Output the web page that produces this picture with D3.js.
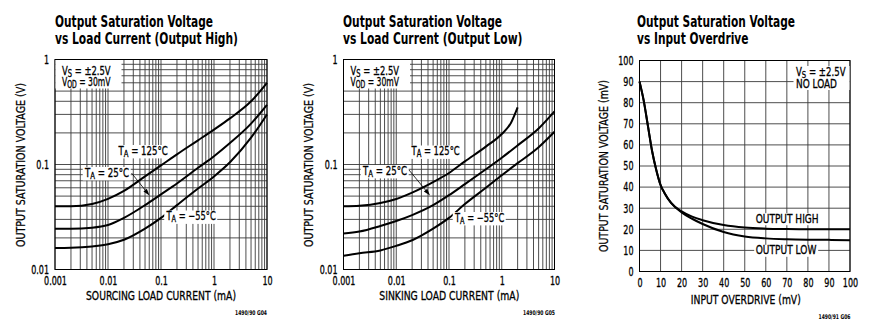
<!DOCTYPE html>
<html><head><meta charset="utf-8">
<script src="https://cdn.jsdelivr.net/npm/d3@7"></script>
<style>body{margin:0;background:#fff}svg{display:block}</style>
</head><body>
<svg id="c" width="869" height="329"></svg>
<script>
// ---------- DATA ----------
const currentMA = [0.001, 0.002, 0.005, 0.01, 0.02, 0.05, 0.1, 0.2, 0.5, 1, 2, 5, 10];
// Output High (sourcing)
const highT125 = [0.040, 0.040, 0.042, 0.047, 0.056, 0.077, 0.098, 0.125, 0.17, 0.215, 0.275, 0.40, 0.60];
const highT25  = [0.0245, 0.0245, 0.025, 0.0265, 0.031, 0.041, 0.052, 0.066, 0.093, 0.12, 0.16, 0.245, 0.37];
const highTm55 = [0.016, 0.0161, 0.0166, 0.0174, 0.0192, 0.0245, 0.031, 0.041, 0.059, 0.077, 0.105, 0.18, 0.30];
// Output Low (sinking)
const lowCurrent125 = [0.001, 0.002, 0.005, 0.01, 0.02, 0.05, 0.1, 0.2, 0.5, 1, 1.5, 2];
const lowT125  = [0.040, 0.0405, 0.043, 0.047, 0.054, 0.068, 0.083, 0.107, 0.148, 0.195, 0.25, 0.35];
const lowT25   = [0.022, 0.023, 0.026, 0.029, 0.033, 0.041, 0.051, 0.065, 0.09, 0.116, 0.152, 0.22, 0.32];
const lowTm55  = [0.0135, 0.0143, 0.0152, 0.0168, 0.019, 0.0245, 0.031, 0.042, 0.060, 0.079, 0.103, 0.146, 0.205];
// Input overdrive
const overdriveMV = [0, 2, 4, 6, 8, 10, 12, 15, 20, 25, 30, 40, 50, 60, 70, 80, 90, 100];
const satHigh = [90, 81, 69, 57, 48, 41, 37, 32.5, 28.5, 26, 24.3, 22, 20.8, 20.3, 20.1, 20, 20, 20];
const satLow  = [90, 81, 69, 57, 48, 41, 37, 32.5, 28, 25, 22.5, 18.7, 16.6, 15.7, 15.3, 15.1, 15, 14.8];
// ticks
const currentTicks = [0.001, 0.01, 0.1, 1, 10];
const currentTickLabels = ["0.001", "0.01", "0.1", "1", "10"];
const voltTicks = [0.01, 0.1, 1];
const voltTickLabels = ["0.01", "0.1", "1"];
const overdriveTicks = [0, 10, 20, 30, 40, 50, 60, 70, 80, 90, 100];
const mvTicks = [0, 10, 20, 30, 40, 50, 60, 70, 80, 90, 100];

// ---------- DRAW ----------
const FONT = "'Liberation Sans Narrow','Arial Narrow','DejaVu Sans Condensed',sans-serif";
const svg = d3.select("#c").attr("font-family", FONT);
const GRID = "#3a3a3a";
const TXT_STROKE = 0.3;

function minorLog(lo, hi) {
  const out = [];
  for (let e = Math.round(Math.log10(lo)); e < Math.round(Math.log10(hi)); e++)
    for (let m = 1; m <= 9; m++) out.push(m * Math.pow(10, e));
  out.push(hi);
  return out;
}

// text with optional subscripts, horizontally condensed to a target width
function rich(parent, x, y, parts, size, width) {
  const g = parent.append("g");
  const t = g.append("text").attr("x", 0).attr("y", 0).attr("font-size", size).attr("fill", "#000")
    .attr("stroke", "#000").attr("stroke-width", TXT_STROKE);
  let shift = 0;
  parts.forEach(p => {
    const isSub = Array.isArray(p);
    const target = isSub ? size * 0.2 : 0;
    t.append("tspan").attr("dy", target - shift)
      .attr("font-size", isSub ? size * 0.8 : size).text(isSub ? p[0] : p);
    shift = target;
  });
  const b = t.node().getBBox();
  const sx = width ? width / b.width : 1;
  g.attr("transform", `translate(${x},${y}) scale(${sx},1)`);
  return {x: x + b.x * sx, y: y + b.y, w: b.width * sx, h: b.height};
}

function whiteBox(parent, box, pad, trimTop, trimBot) {
  parent.insert("rect", "g").attr("x", box.x - pad).attr("y", box.y + trimTop)
    .attr("width", box.w + 2 * pad).attr("height", box.h - trimTop - trimBot).attr("fill", "#fff");
}

function titles(g, x, l1, l2, w1, w2) {
  g.append("text").attr("x", x).attr("y", 27).attr("font-size", 16).attr("font-weight", "bold")
    .attr("textLength", w1).attr("lengthAdjust", "spacingAndGlyphs").text(l1);
  g.append("text").attr("x", x).attr("y", 43.5).attr("font-size", 16).attr("font-weight", "bold")
    .attr("textLength", w2).attr("lengthAdjust", "spacingAndGlyphs").text(l2);
}

function axisTitles(g, cx, by, xt, xw, yx, cy, yt, yw) {
  g.append("text").attr("x", cx).attr("y", by).attr("font-size", 13).attr("text-anchor", "middle")
    .attr("stroke", "#000").attr("stroke-width", TXT_STROKE)
    .attr("textLength", xw).attr("lengthAdjust", "spacingAndGlyphs").text(xt);
  g.append("text").attr("transform", `translate(${yx},${cy}) rotate(-90)`).attr("font-size", 12)
    .attr("stroke", "#000").attr("stroke-width", TXT_STROKE * 0.8)
    .attr("text-anchor", "middle").attr("textLength", yw).attr("lengthAdjust", "spacingAndGlyphs").text(yt);
}

function footer(g, xr, y, txt) {
  g.append("text").attr("x", xr).attr("y", y).attr("font-size", 6.5).attr("font-weight", "bold")
    .attr("text-anchor", "end").attr("textLength", 32).attr("lengthAdjust", "spacingAndGlyphs").text(txt);
}

function styleTicks(a) {
  a.select(".domain").remove();
  a.selectAll("text").attr("font-family", FONT).attr("font-size", 12).attr("fill", "#000")
    .attr("stroke", "#000").attr("stroke-width", TXT_STROKE)
    .each(function () {
      const w = this.getComputedTextLength();
      d3.select(this).attr("textLength", w * 0.74).attr("lengthAdjust", "spacingAndGlyphs");
    });
}

function arrow(g, ar) {
  const ang = Math.atan2(ar[3] - ar[1], ar[2] - ar[0]);
  g.append("line").attr("x1", ar[0]).attr("y1", ar[1])
    .attr("x2", ar[2] - 5 * Math.cos(ang)).attr("y2", ar[3] - 5 * Math.sin(ang))
    .attr("stroke", "#000").attr("stroke-width", 0.8);
  const hl = 7, hw = 2.2;
  const bx = ar[2] - hl * Math.cos(ang), by = ar[3] - hl * Math.sin(ang);
  g.append("path").attr("d", `M${ar[2]},${ar[3]}L${bx + hw * Math.sin(ang)},${by - hw * Math.cos(ang)}L${bx - hw * Math.sin(ang)},${by + hw * Math.cos(ang)}Z`)
    .attr("fill", "#000");
}

function logPanel(cfg) {
  const g = svg.append("g");
  const x = d3.scaleLog().domain([0.001, 10]).range([cfg.left, cfg.right]);
  const y = d3.scaleLog().domain([0.01, 1]).range([cfg.bottom, cfg.top]);
  const grid = g.append("g").attr("stroke", GRID).attr("stroke-width", 0.9);
  grid.selectAll("line.v").data(minorLog(0.001, 10)).join("line")
    .attr("x1", d => x(d)).attr("x2", d => x(d)).attr("y1", cfg.top).attr("y2", cfg.bottom);
  grid.selectAll("line.h").data(minorLog(0.01, 1)).join("line").attr("class", "h")
    .attr("y1", d => y(d)).attr("y2", d => y(d)).attr("x1", cfg.left).attr("x2", cfg.right);
  g.append("rect").attr("x", cfg.left).attr("y", cfg.top).attr("width", cfg.right - cfg.left)
    .attr("height", cfg.bottom - cfg.top).attr("fill", "none").attr("stroke", "#000").attr("stroke-width", 1);

  const xa = g.append("g").attr("transform", `translate(0,${cfg.bottom})`)
    .call(d3.axisBottom(x).tickValues(currentTicks).tickFormat((d, i) => currentTickLabels[i]).tickSize(0).tickPadding(7));
  const ya = g.append("g").attr("transform", `translate(${cfg.left},0)`)
    .call(d3.axisLeft(y).tickValues(voltTicks).tickFormat((d, i) => voltTickLabels[i]).tickSize(0).tickPadding(6));
  styleTicks(xa); styleTicks(ya);

  // legend
  const lg = g.append("g");
  lg.append("rect").attr("x", cfg.left + 0.5).attr("y", cfg.top + 0.5)
    .attr("width", 66).attr("height", 88 - cfg.top).attr("fill", "#fff");
  rich(lg, cfg.left + 7, 74.5, ["V", ["S"], " = ±2.5V"], 12, 49);
  rich(lg, cfg.left + 7, 86, ["V", ["OD"], " = 30mV"], 12, 49);

  const line = d3.line().x(d => x(d[0])).y(d => y(d[1])).curve(d3.curveMonotoneX);
  cfg.series.forEach(s => {
    g.append("path").datum(d3.zip(s.x, s.y)).attr("d", line)
      .attr("fill", "none").attr("stroke", "#000").attr("stroke-width", 2);
  });

  // annotations
  const an = g.append("g");
  cfg.labels.forEach(L => {
    const b = rich(an, L.x, L.y, ["T", ["A"], L.txt], 12, L.w);
    whiteBox(an, b, 1.5, 1.5, 0.5);
  });
  arrow(an, cfg.arrow);
  return g;
}

// Panel 1
const g1 = logPanel({
  left: 55, right: 267, top: 59.5, bottom: 269.5,
  series: [{x: currentMA, y: highT125}, {x: currentMA, y: highT25}, {x: currentMA, y: highTm55}],
  labels: [{x: 118.5, y: 154.5, txt: " = 125°C", w: 50}, {x: 85, y: 176.5, txt: " = 25°C", w: 45}, {x: 166.5, y: 220, txt: " = −55°C", w: 50}],
  arrow: [131.5, 173, 149.5, 195.5]
});
titles(g1, 55, "Output Saturation Voltage", "vs Load Current (Output High)", 158, 183);
axisTitles(g1, 161, 300, "SOURCING LOAD CURRENT (mA)", 150, 25, 165, "OUTPUT SATURATION VOLTAGE (V)", 164);
footer(g1, 267, 315, "1490/90 G04");

// Panel 2
const g2 = logPanel({
  left: 343.5, right: 554.5, top: 59.5, bottom: 269.5,
  series: [{x: lowCurrent125, y: lowT125}, {x: currentMA, y: lowT25}, {x: currentMA, y: lowTm55}],
  labels: [{x: 411.5, y: 155, txt: " = 125°C", w: 49}, {x: 363, y: 174.5, txt: " = 25°C", w: 45}, {x: 455, y: 221.5, txt: " = −55°C", w: 50}],
  arrow: [409, 170, 430, 195.5]
});
titles(g2, 343, "Output Saturation Voltage", "vs Load Current (Output Low)", 159, 179.5);
axisTitles(g2, 449.3, 300, "SINKING LOAD CURRENT (mA)", 140, 313.3, 165, "OUTPUT SATURATION VOLTAGE (V)", 164);
footer(g2, 555, 315, "1490/90 G05");

// Panel 3
(function () {
  const cfg = {left: 639.5, right: 850, top: 60.5, bottom: 271.5};
  const g = svg.append("g");
  const x = d3.scaleLinear().domain([0, 100]).range([cfg.left, cfg.right]);
  const y = d3.scaleLinear().domain([0, 100]).range([cfg.bottom, cfg.top]);
  const grid = g.append("g").attr("stroke", GRID).attr("stroke-width", 0.9);
  grid.selectAll("line.v").data(overdriveTicks).join("line")
    .attr("x1", d => x(d)).attr("x2", d => x(d)).attr("y1", cfg.top).attr("y2", cfg.bottom);
  grid.selectAll("line.h").data(mvTicks).join("line").attr("class", "h")
    .attr("y1", d => y(d)).attr("y2", d => y(d)).attr("x1", cfg.left).attr("x2", cfg.right);
  g.append("rect").attr("x", cfg.left).attr("y", cfg.top).attr("width", cfg.right - cfg.left)
    .attr("height", cfg.bottom - cfg.top).attr("fill", "none").attr("stroke", "#000").attr("stroke-width", 1);

  const xa = g.append("g").attr("transform", `translate(0,${cfg.bottom})`)
    .call(d3.axisBottom(x).tickValues(overdriveTicks).tickFormat(d3.format("d")).tickSize(0).tickPadding(7));
  const ya = g.append("g").attr("transform", `translate(${cfg.left},0)`)
    .call(d3.axisLeft(y).tickValues(mvTicks).tickFormat(d3.format("d")).tickSize(0).tickPadding(6));
  styleTicks(xa); styleTicks(ya);

  const line = d3.line().x(d => x(d[0])).y(d => y(d[1])).curve(d3.curveMonotoneX);
  [satHigh, satLow].forEach(s => {
    g.append("path").datum(d3.zip(overdriveMV, s)).attr("d", line)
      .attr("fill", "none").attr("stroke", "#000").attr("stroke-width", 2);
  });

  const an = g.append("g");
  an.append("rect").attr("x", 793.5).attr("y", 66).attr("width", 56).attr("height", 24).attr("fill", "#fff");
  rich(an, 796, 75.7, ["V", ["S"], " = ±2.5V"], 12, 50);
  rich(an, 796, 87.7, ["NO LOAD"], 12, 41);
  const b1 = rich(an, 755.7, 222.7, ["OUTPUT HIGH"], 12, 63);
  whiteBox(an, b1, 1.5, 1.5, 0.5);
  const b2 = rich(an, 755.7, 254.3, ["OUTPUT LOW"], 12, 61);
  whiteBox(an, b2, 1.5, 1.5, 0.5);

  titles(g, 637, "Output Saturation Voltage", "vs Input Overdrive", 158, 111.5);
  axisTitles(g, 745.8, 304, "INPUT OVERDRIVE (mV)", 110, 608, 166, "OUTPUT SATURATION VOLTAGE (mV)", 172);
  footer(g, 850.5, 319, "1490/91 G06");
})();
</script>
</body></html>
